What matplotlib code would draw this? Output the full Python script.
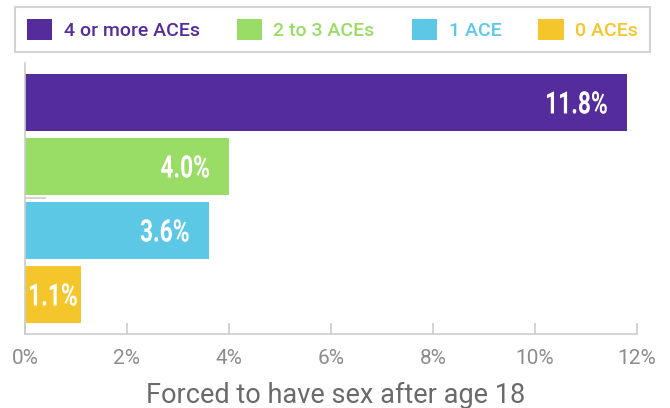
import matplotlib
matplotlib.use("Agg")
import matplotlib.pyplot as plt
from matplotlib.patches import Patch, PathPatch
from matplotlib.textpath import TextPath
from matplotlib.font_manager import FontProperties
from matplotlib.transforms import Affine2D, IdentityTransform

categories = ["4 or more ACEs", "2 to 3 ACEs", "1 ACE", "0 ACEs"]
values = [11.8, 4.0, 3.6, 1.1]
colors = ["#542c9c", "#99dc66", "#5dc8e6", "#f5c62b"]
xticks = [0, 2, 4, 6, 8, 10, 12]
xticklabels = ["0%", "2%", "4%", "6%", "8%", "10%", "12%"]
xlabel = "Forced to have sex after age 18"

W, H = 670, 408
DPI = 100
fig = plt.figure(figsize=(W / DPI, H / DPI), dpi=DPI)
ax = fig.add_axes([25 / W, (H - 334) / H, (637 - 25) / W, (334 - 63) / H])

ypos = list(range(len(values)))
ax.barh(ypos, values, height=0.89, color=colors, zorder=2)
ax.set_ylim(3.617, -0.617)
ax.set_xlim(0, 12)

for s in ["top", "right"]:
    ax.spines[s].set_visible(False)
for s in ["left", "bottom"]:
    ax.spines[s].set_color("#cccccc")
    ax.spines[s].set_linewidth(1.2)

ax.set_xticks(xticks)
ax.set_xticklabels(xticklabels, fontfamily="Roboto", fontweight="normal",
                   fontsize=15, color="#8c8c8c")
ax.tick_params(axis="x", direction="in", length=8, width=1.2, color="#cccccc", pad=11)
ax.set_yticks([1.5])
ax.set_yticklabels([""])
ax.tick_params(axis="y", direction="in", length=15, width=1.2, color="#cccccc")

fig.text(336 / W, (H - 403) / H, xlabel, ha="center", va="baseline",
         fontfamily="Roboto", fontsize=19.5, color="#6a6a6a")

# value labels: condensed bold numbers drawn as text paths
prop = FontProperties(family="Roboto", weight="bold")
cap_px = 22.0
ref = TextPath((0, 0), "4", size=100, prop=prop)
ref_ext = ref.get_extents()
s_y = cap_px / ref_ext.height
w40 = TextPath((0, 0), "4.0%", size=100, prop=prop).get_extents().width
s_x = 48.0 / w40

x0_disp = ax.transData.transform((0, 0))[0]
for y, v in zip(ypos, values):
    tp = TextPath((0, 0), f"{v:.1f}%", size=100, prop=prop)
    ext = tp.get_extents()
    w = ext.width * s_x
    end_disp, cy = ax.transData.transform((v, y))
    left = end_disp - 20 - w
    if left < x0_disp + 5:
        left = x0_disp + 5
    base = cy - cap_px / 2
    tr = Affine2D().translate(-ext.x0, 0).scale(s_x, s_y).translate(left, base)
    patch = PathPatch(tr.transform_path(tp), facecolor="white", edgecolor="none",
                      transform=IdentityTransform(), zorder=3)
    fig.add_artist(patch)

handles = [Patch(facecolor=c, edgecolor="none") for c in colors]
leg = fig.legend(handles, categories, loc="upper left",
                 bbox_to_anchor=(15 / W, 1 - 7 / H), ncol=4, frameon=True,
                 fancybox=False, edgecolor="#c8c8c8",
                 prop={"family": "Roboto", "size": 14, "weight": "medium"},
                 handlelength=1.3, handleheight=1.3, handletextpad=0.6,
                 columnspacing=1.9, borderpad=0.6, borderaxespad=0,
                 labelcolor=colors)
leg.get_frame().set_linewidth(1.5)

fig.savefig("out.png", dpi=DPI)
